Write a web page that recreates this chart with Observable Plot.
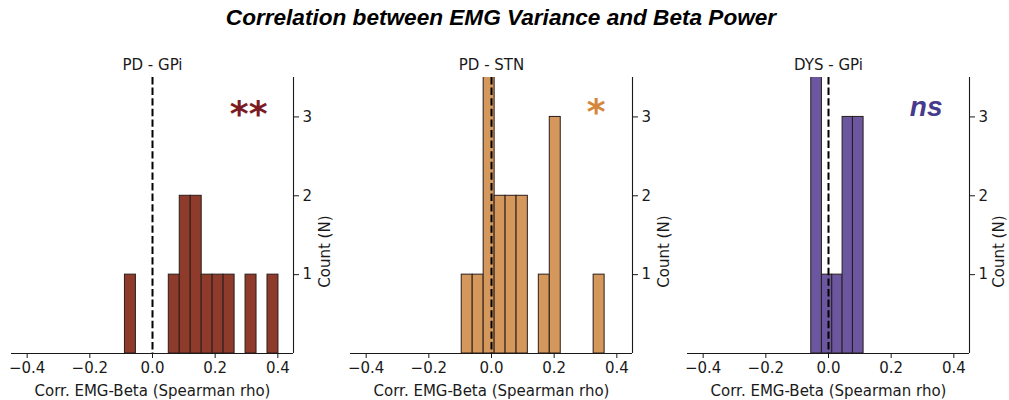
<!DOCTYPE html>
<html>
<head>
<meta charset="utf-8">
<script src="https://cdn.jsdelivr.net/npm/d3@7"></script>
<script src="https://cdn.jsdelivr.net/npm/@observablehq/plot@0.6"></script>
<style>
  html, body { margin: 0; padding: 0; background: white; }
  #wrap { position: relative; width: 1009px; height: 400px; overflow: hidden; background: white; }
  #title { position: absolute; left: 0; top: 7px; width: 1002px; text-align: center;
    font-family: "Liberation Sans", Arial, sans-serif; font-weight: bold; font-style: italic;
    font-size: 22.6px; line-height: 22px; color: #000; }
  .panel { position: absolute; top: 45px; width: 335px; height: 355px; }
  .panel svg { max-width: none !important; }
</style>
</head>
<body>
<div id="wrap">
  <div id="title">Correlation between EMG Variance and Beta Power</div>
</div>
<script>
// ---- data (histogram bins) ----
const panelTitles = ["PD - GPi", "PD - STN", "DYS - GPi"];
const signif = ["**", "*", "ns"];

const gpiX0 = [-0.088, 0.052, 0.087, 0.122, 0.157, 0.192, 0.227, 0.297, 0.367];
const gpiX1 = [-0.053, 0.087, 0.122, 0.157, 0.192, 0.227, 0.262, 0.332, 0.402];
const gpiN  = [1, 1, 2, 2, 1, 1, 1, 1, 1];

const stnX0 = [-0.095, -0.060, -0.025, 0.010, 0.045, 0.080, 0.151, 0.186, 0.326];
const stnX1 = [-0.060, -0.025, 0.010, 0.045, 0.080, 0.116, 0.186, 0.221, 0.361];
const stnN  = [1, 1, 4, 2, 2, 2, 1, 3, 1];

const dysX0 = [-0.055, -0.021, 0.012, 0.045, 0.078];
const dysX1 = [-0.021, 0.012, 0.045, 0.078, 0.112];
const dysN  = [4, 1, 1, 3, 3];

const xTicks = [-0.4, -0.2, 0.0, 0.2, 0.4];
const yTicks = [1, 2, 3];
const xDomain = [-0.45, 0.45];
const yDomain = [0, 3.5];
const xLabel = "Corr. EMG-Beta (Spearman rho)";
const yLabel = "Count (N)";

const fills = ["#8f3b2c", "#d4985c", "#6b56a0"];
const sigColors = ["#7b1c24", "#d4873c", "#463a8c"];
const sigFonts = [
  {fontFamily: "DejaVu Sans", fontWeight: "bold", fontStyle: "normal", fontSize: 36, dy: 48, dx: -26},
  {fontFamily: "DejaVu Sans", fontWeight: "bold", fontStyle: "normal", fontSize: 36, dy: 46, dx: -27},
  {fontFamily: "Liberation Sans", fontWeight: "bold", fontStyle: "italic", fontSize: 28, dy: 38, dx: -27}
];
const lefts = [0, 339, 676];
const ylabelDx = [32, 32, 30];
const FS = 15;

const bins = [
  gpiX0.map((d, i) => ({x1: d, x2: gpiX1[i], n: gpiN[i]})),
  stnX0.map((d, i) => ({x1: d, x2: stnX1[i], n: stnN[i]})),
  dysX0.map((d, i) => ({x1: d, x2: dysX1[i], n: dysN[i]}))
];

const wrap = document.getElementById("wrap");
const fmt = d3.format(".1f");

bins.forEach((data, k) => {
  const sf = sigFonts[k];
  const chart = Plot.plot({
    width: 335,
    height: 355,
    marginLeft: 11,
    marginRight: 42,
    marginTop: 32,
    marginBottom: 47,
    style: {fontFamily: "DejaVu Sans", fontSize: FS + "px", color: "#1a1a1a", background: "transparent", overflow: "visible", maxWidth: "none"},
    x: {domain: xDomain},
    y: {domain: yDomain},
    marks: [
      Plot.rectY(data, {x1: "x1", x2: "x2", y1: 0, y2: "n", fill: fills[k], stroke: "#2a1d1a", strokeWidth: 1, inset: 0, clip: true}),
      Plot.ruleX([0], {stroke: "#000", strokeWidth: 2, strokeDasharray: "7.4,3.2"}),
      Plot.ruleY([yDomain[0]], {stroke: "#1a1a1a", strokeWidth: 1.1}),
      Plot.ruleX([xDomain[1]], {stroke: "#1a1a1a", strokeWidth: 1.1}),
      Plot.axisX({ticks: xTicks, tickFormat: fmt, tickSize: 5, tickPadding: 4, label: null, stroke: "#1a1a1a", fontSize: FS}),
      Plot.axisY({anchor: "right", ticks: yTicks, tickFormat: d3.format("d"), tickSize: 5, tickPadding: 4, label: null, stroke: "#1a1a1a", fontSize: FS}),
      Plot.text([xLabel], {frameAnchor: "bottom", dy: 38, lineAnchor: "middle", fontSize: FS, fill: "#1a1a1a"}),
      Plot.text([yLabel], {frameAnchor: "right", dx: ylabelDx[k], rotate: -90, lineAnchor: "middle", fontSize: FS, fill: "#1a1a1a"}),
      Plot.text([panelTitles[k]], {frameAnchor: "top", dy: -8, lineAnchor: "bottom", fontSize: FS, fill: "#1a1a1a"}),
      Plot.text([signif[k]], {frameAnchor: "top-right", dx: sf.dx, dy: sf.dy, lineAnchor: "bottom", textAnchor: "end",
        fill: sigColors[k], fontSize: sf.fontSize, fontWeight: sf.fontWeight, fontStyle: sf.fontStyle, fontFamily: sf.fontFamily})
    ]
  });
  const div = document.createElement("div");
  div.className = "panel";
  div.style.left = lefts[k] + "px";
  div.appendChild(chart);
  wrap.appendChild(div);
});
</script>
</body>
</html>
